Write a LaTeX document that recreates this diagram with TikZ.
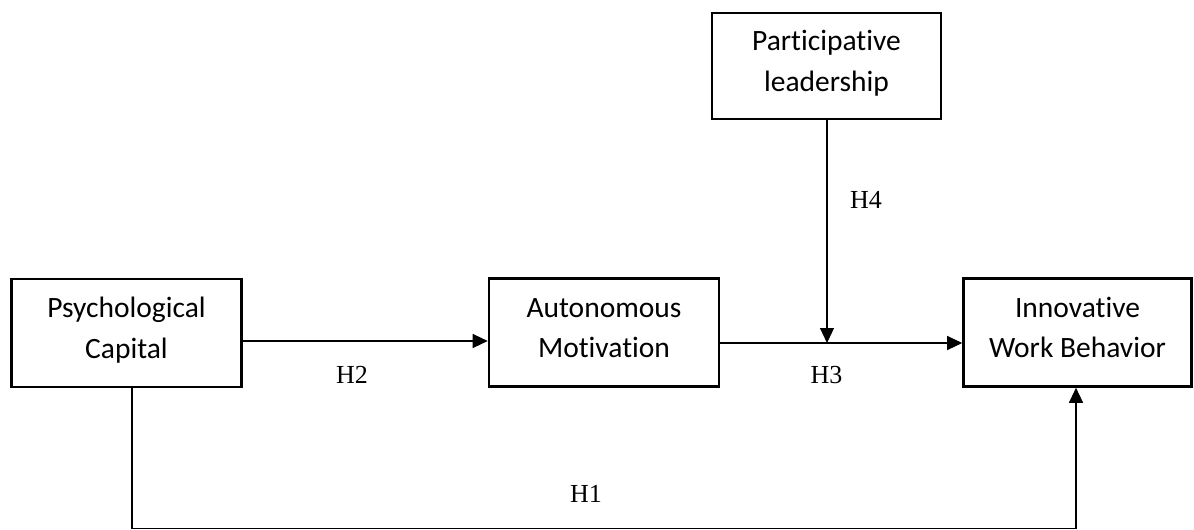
\documentclass[tikz,border=0pt]{standalone}
\usepackage{fontspec}
\setmainfont{Liberation Serif}
\newfontfamily\boxfont[Ligatures={NoCommon}]{Carlito}
\usetikzlibrary{arrows.meta}
\begin{document}
\begin{tikzpicture}[x=1pt,y=-1pt,
  varbox/.style={draw, line width=2.6pt, minimum width=230pt, minimum height=108pt,
    inner sep=0pt, align=center, font=\boxfont\fontsize{29.5}{40.5}\selectfont,
    text height=60pt, text depth=10pt},
  link/.style={line width=1.2pt, -{Triangle[length=15pt,width=14pt]}},
  hyp/.style={font=\fontsize{26}{30}\selectfont, anchor=base, inner sep=0pt}]
\useasboundingbox (0,0) rectangle (1194,530);

\node[varbox] (psy) at (126.5,333) {Psychological\\Capital};
\node[varbox] (aut) at (604,332.5) {Autonomous\\Motivation};
\node[varbox, minimum width=228pt] (inn) at (1077.5,332.5) {Innovative\\Work Behavior};
\node[varbox, minimum width=229pt, minimum height=106pt] (par) at (826.5,66) {Participative\\leadership};

\coordinate (j) at (827,343);
\coordinate (c1) at (132,528.5);
\coordinate (c2) at (1076,528.5);

\draw[link] ([yshift=-8pt]psy.east) -- ([yshift=-8.5pt]aut.west);
\draw[link] (aut.east |- j) -- (inn.west |- j);
\draw[link] (par.south -| j) -- (j);
\draw[link] (psy.south -| c1) -- (c1) -- (c2) -- (inn.south -| c2);

\node[hyp] (h2) at (352,383.3) {H2};
\node[hyp] (h3) at (826.5,383) {H3};
\node[hyp] (h4) at (866,208) {H4};
\node[hyp] (h1) at (586,502) {H1};
\end{tikzpicture}
\end{document}
